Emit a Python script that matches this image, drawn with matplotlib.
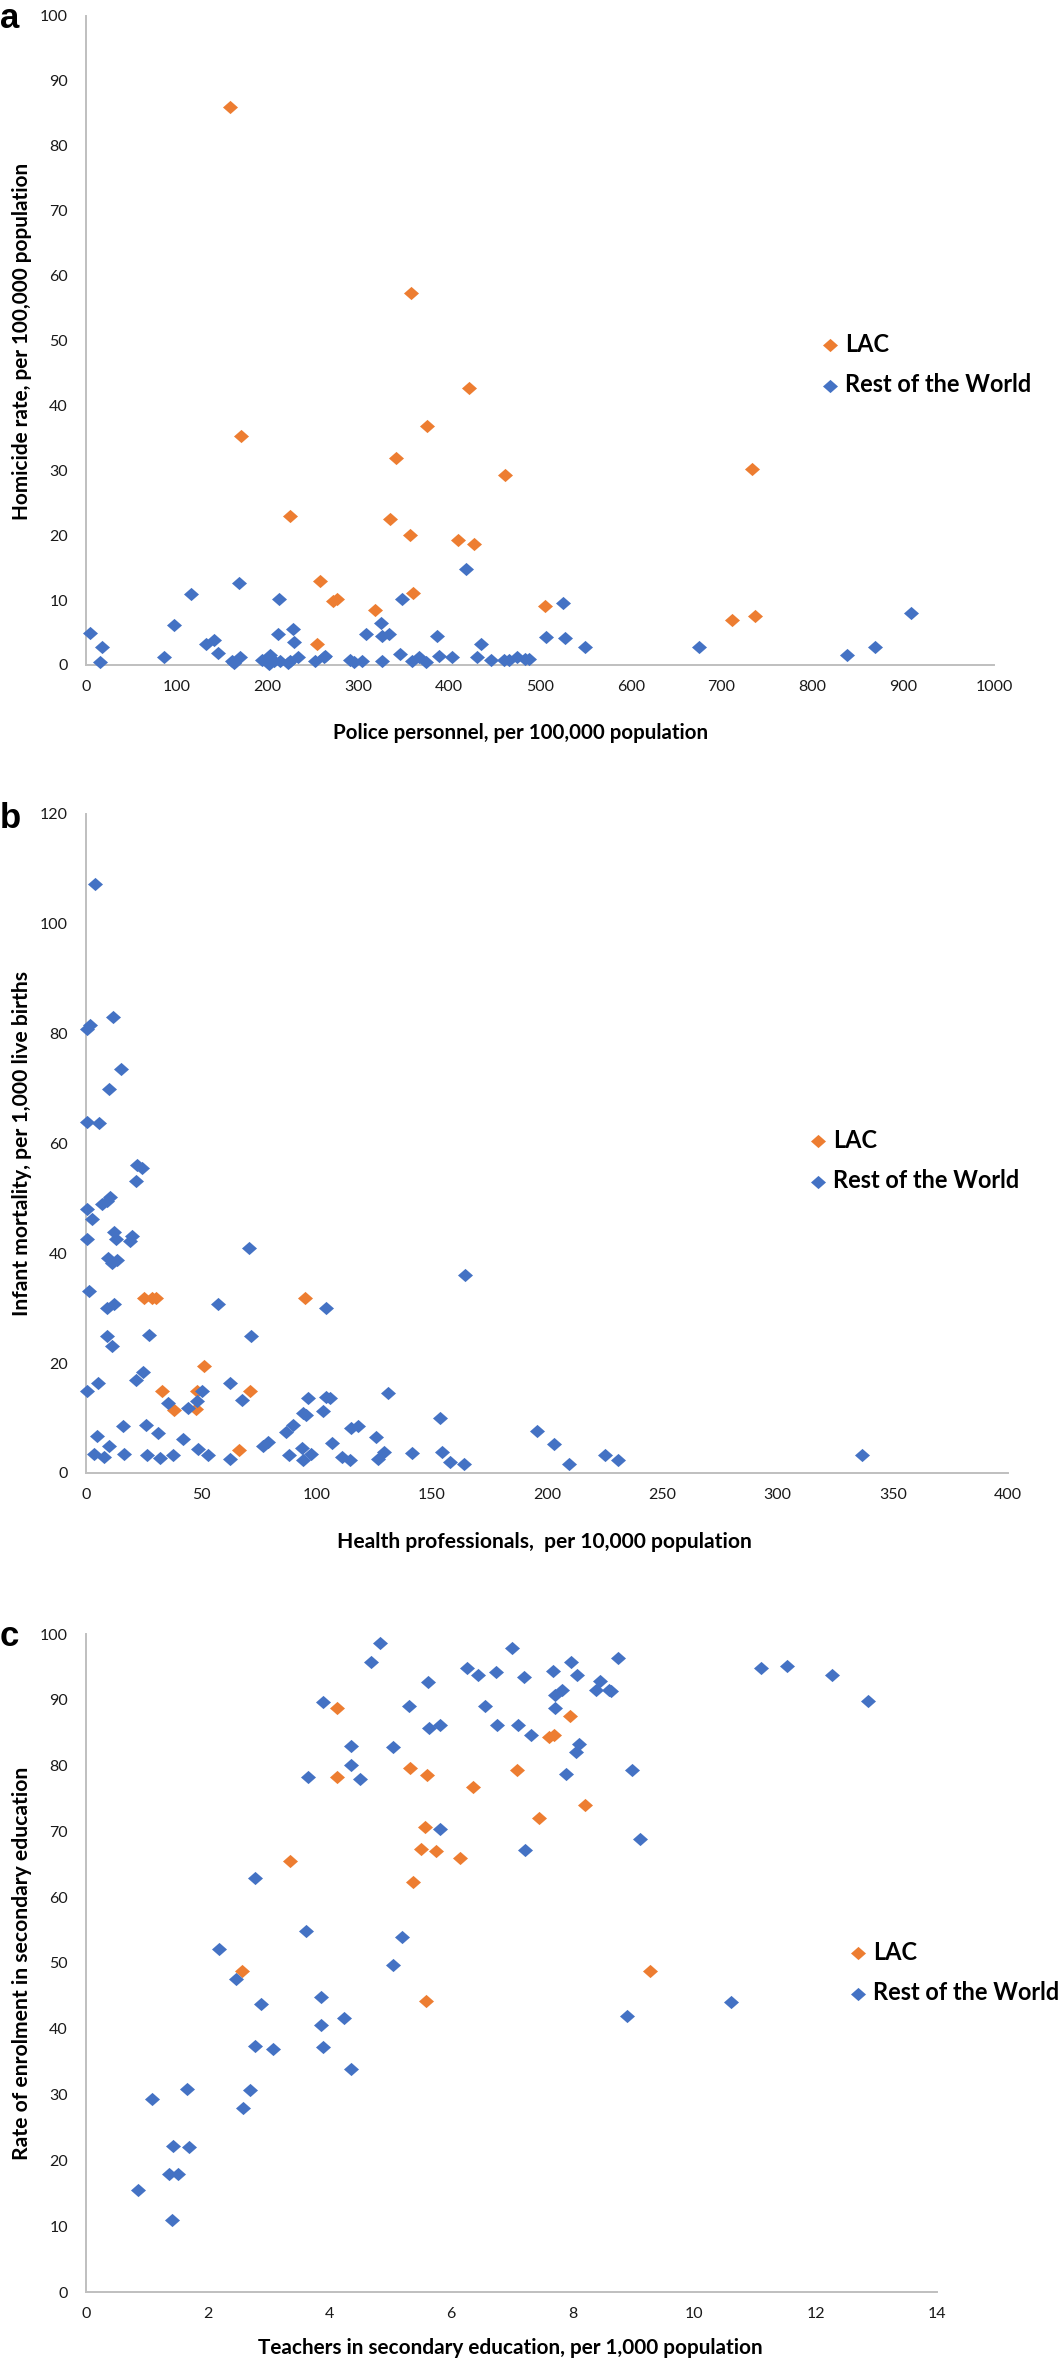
import matplotlib
matplotlib.use("Agg")
import matplotlib.pyplot as plt
from matplotlib.path import Path

# ---- panel a: police personnel vs homicide rate ----
police_lac = [159, 171, 225, 258, 254, 272, 276, 318, 335, 341, 358, 357, 360,
              375, 410, 422, 427, 461, 506, 733, 712, 737]
homicide_lac = [86.0, 35.3, 22.9, 12.9, 3.2, 9.8, 10.1, 8.4, 22.5, 31.8, 57.3, 20.0, 11.1,
                36.8, 19.2, 42.7, 18.6, 29.3, 9.1, 30.2, 7.0, 7.6]
police_row = [4.5, 15.4, 17.3, 86.4, 97, 116, 132, 141, 145, 160.7, 163.2, 169.8, 169,
              193.8, 199.3, 201, 206.6, 203, 214, 223, 224.6, 234, 213, 211, 228, 229,
              252.6, 261.8, 263.6, 291, 294.9, 304, 308, 324.6, 326.5, 334, 326, 345.6,
              348, 359, 366.5, 374, 387, 388.6, 403.3, 419, 431, 435.3, 445.6, 460,
              465.8, 475, 484, 488, 506.8, 525.5, 527.4, 550, 675, 838, 869, 909]
homicide_row = [4.9, 0.5, 2.8, 1.3, 6.2, 10.9, 3.3, 3.8, 1.8, 0.6, 0.3, 1.2, 12.7,
                0.7, 0.9, 0.2, 0.6, 1.5, 0.6, 0.3, 0.6, 1.2, 10.2, 4.7, 5.5, 3.6,
                0.6, 1.2, 1.4, 0.8, 0.4, 0.6, 4.8, 6.5, 4.5, 4.8, 0.6, 1.7,
                10.2, 0.6, 1.2, 0.4, 4.5, 1.4, 1.3, 14.8, 1.2, 3.3, 0.8, 0.7,
                0.8, 1.2, 0.9, 0.9, 4.3, 9.5, 4.1, 2.8, 2.7, 1.6, 2.7, 8.0]

# ---- panel b: health professionals vs infant mortality ----
health_lac = [25.1, 28.5, 30.2, 95, 33.1, 38.2, 47.7, 48, 51.2, 71.1, 66.3]
infant_lac = [31.8, 31.8, 31.8, 31.8, 15.0, 11.5, 11.7, 15.0, 19.4, 15.0, 4.1]
health_row = [3.9, 0.3, 1.7, 11.8, 15.2, 10, 0.6, 5.6, 22, 24.4, 21.5, 7.1, 9.2, 10.4,
              0.6, 2.7, 0.6, 12.3, 13, 19.8, 19, 9.7, 11.4, 13.6, 70.8, 1.4, 9, 12.3,
              57.4, 104.3, 9, 11.1, 27.3, 71.8, 0.6, 5.3, 21.5, 24.9, 35.4, 44.4, 48.3,
              50.4, 62.4, 67.8, 16.2, 25.9, 31.4, 42.2, 4.6, 3.6, 7.8, 10.1, 16.6, 26.6,
              32.1, 37.9, 48.7, 53, 62.4, 76.9, 79, 86.6, 89.9, 88, 94.2, 95.4, 96.4,
              93.9, 94.2, 97.8, 102.9, 104.3, 106, 106.8, 111, 114.5, 115, 118,
              164.4, 131, 125.6, 126.6, 129.4, 141.4, 153.6, 154.4, 158, 164, 195.6,
              203.2, 209.6, 225.2, 230.8, 336.6]
infant_row = [107.1, 80.8, 81.5, 83.0, 73.5, 69.9, 63.9, 63.7, 56.0, 55.5, 53.1, 49.0, 49.5, 50.3,
              48.0, 46.3, 42.6, 43.9, 42.5, 43.1, 42.3, 39.2, 38.3, 38.8, 41.0, 33.1, 30.0, 30.7,
              30.7, 30.0, 25.0, 23.2, 25.2, 25.0, 15.0, 16.3, 17.0, 18.3, 12.7, 11.9, 13.1,
              14.9, 16.3, 13.3, 8.6, 8.7, 7.2, 6.2, 6.7, 3.5, 3.0, 5.0, 3.5, 3.2,
              2.7, 3.2, 4.4, 3.2, 2.5, 5.0, 5.7, 7.5, 8.7, 3.2, 10.9, 10.6, 13.7,
              4.6, 2.3, 3.5, 11.3, 13.9, 13.6, 5.5, 3.0, 2.3, 8.2, 8.5,
              36.1, 14.6, 6.5, 2.6, 3.9, 3.7, 10.1, 3.9, 2.0, 1.6, 7.7,
              5.3, 1.7, 3.2, 2.3, 3.3]

# ---- panel c: secondary teachers vs enrolment ----
teachers_lac = [2.56, 3.35, 4.12, 4.12, 5.33, 5.61, 5.58, 5.5, 5.76, 5.37, 6.15, 6.37,
                5.59, 7.09, 7.44, 7.95, 7.62, 7.69, 8.2, 9.27]
enrol_lac = [48.8, 65.5, 88.7, 78.3, 79.7, 78.6, 70.6, 67.3, 67.0, 62.3, 65.9, 76.8,
             44.3, 79.3, 72.0, 87.5, 84.3, 84.7, 74.0, 48.8]
teachers_row = [0.85, 1.09, 1.43, 1.36, 1.52, 1.41, 1.66, 1.70, 2.18, 2.46, 2.78, 2.88,
                2.78, 2.69, 2.58, 3.08, 3.62, 3.65, 3.90, 3.86, 3.86, 3.90, 4.24, 4.36,
                4.35, 4.36, 4.51, 4.69, 4.84, 5.05, 5.05, 5.20, 5.31, 5.62, 5.64, 5.82,
                5.82, 6.26, 6.45, 6.56, 6.74, 6.75, 7.0, 7.2, 7.1, 7.31, 7.21, 7.68,
                7.97, 8.07, 8.75, 7.71, 7.83, 7.71, 8.39, 8.45, 8.6, 8.64, 8.11, 8.06,
                7.89, 8.98, 9.11, 8.9, 10.6, 11.1, 11.53, 12.27, 12.86]
enrol_row = [15.5, 29.4, 22.2, 17.9, 17.9, 11.0, 30.9, 22.0, 52.2, 47.6, 62.9, 43.7,
             37.4, 30.7, 28.0, 36.9, 54.9, 78.2, 89.6, 44.9, 40.6, 37.2, 41.7, 33.9,
             83.0, 80.1, 77.9, 95.7, 98.7, 82.8, 49.7, 53.9, 89.0, 92.7, 85.7, 86.1,
             70.4, 94.9, 93.7, 89.1, 94.2, 86.1, 97.8, 93.4, 86.2, 84.6, 67.1, 94.4,
             95.7, 93.7, 96.4, 90.7, 91.5, 88.7, 91.5, 92.8, 91.5, 91.3, 83.3, 82.0,
             78.7, 79.3, 68.8, 42.0, 44.0, 94.9, 95.1, 93.8, 89.8]

W, H, DPI = 1061, 2362, 100
BLUE = "#4472C4"
ORANGE = "#ED7D31"
GREY = "#BFBFBF"
INK = "#1a1a1a"

plt.rcParams["font.family"] = ["Lato", "DejaVu Sans"]

# Excel-like diamond, a bit wider than tall
diamond = Path([(-1, 0), (0, 0.88), (1, 0), (0, -0.88), (-1, 0)],
               [Path.MOVETO, Path.LINETO, Path.LINETO, Path.LINETO, Path.CLOSEPOLY])

fig = plt.figure(figsize=(W / DPI, H / DPI), dpi=DPI)
renderer = fig.canvas.get_renderer()


def fx(x):
    return x / W


def fy(y):
    return 1 - y / H


def fit(t, target, vertical=False):
    # scale font so the text spans the measured pixel length
    bb = t.get_window_extent(renderer)
    size = bb.height if vertical else bb.width
    t.set_fontsize(t.get_fontsize() * target / size)
    return t


def panel(box, x_lac, y_lac, x_row, y_row, xlim, xticks, ylim, yticks,
          xlabel, xlab, ylabel, ylab, letter, letter_y, leg):
    left, top, right, bottom = box
    ax = fig.add_axes([fx(left), fy(bottom), (right - left) / W, (bottom - top) / H])
    ax.scatter(x_lac, y_lac, s=117, marker=diamond, color=ORANGE, linewidths=0,
               label="LAC", zorder=3, clip_on=False)
    ax.scatter(x_row, y_row, s=117, marker=diamond, color=BLUE, linewidths=0,
               label="Rest of the World", zorder=3, clip_on=False)
    ax.set_xlim(*xlim)
    ax.set_ylim(*ylim)
    ax.set_xticks(xticks)
    ax.set_yticks(yticks)
    for side in ("top", "right"):
        ax.spines[side].set_visible(False)
    for side in ("left", "bottom"):
        ax.spines[side].set_color(GREY)
        ax.spines[side].set_linewidth(1.4)
    ax.tick_params(length=0, labelsize=11.5, colors=INK)
    ax.tick_params(axis="y", pad=13)
    ax.tick_params(axis="x", pad=11)

    # axis titles: (start x, centre y, width) and (centre x, top, bottom)
    t = fig.text(fx(xlab[0]), fy(xlab[1]), xlabel, ha="left", va="center",
                 fontsize=14, fontweight="bold", color="black")
    fit(t, xlab[2])
    t = fig.text(fx(ylab[0]), fy((ylab[1] + ylab[2]) / 2), ylabel, rotation=90,
                 ha="center", va="center", fontsize=13.5, fontweight="bold", color="black")
    fit(t, ylab[2] - ylab[1], vertical=True)

    fig.text(0, fy(letter_y), letter, ha="left", va="baseline", fontsize=25,
             fontweight="bold", family="Liberation Sans")

    # legend: marker x, LAC row y, Rest of the World row y
    mx, y1, y2 = leg
    fs = 15.5
    probe = fig.text(0, 0, "Rest of the World", fontsize=fs, fontweight="bold")
    fit(probe, 187)
    fs = probe.get_fontsize()
    probe.remove()
    fs_px = fs * DPI / 72
    hl = 0.7
    spacing = 0.9
    for _ in range(3):
        lg = ax.legend(loc="center left", bbox_to_anchor=(fx(mx - hl / 2 * fs_px), fy((y1 + y2) / 2)),
                       bbox_transform=fig.transFigure, frameon=False, borderpad=0,
                       borderaxespad=0, handlelength=hl, handletextpad=15 / fs_px - hl / 2,
                       labelspacing=spacing, prop={"weight": "bold", "size": fs})
        for txt in lg.get_texts():
            txt.set_color("black")
        fig.canvas.draw()
        b0, b1 = [tx.get_window_extent(renderer) for tx in lg.get_texts()]
        gap = (b0.y0 + b0.y1) / 2 - (b1.y0 + b1.y1) / 2
        spacing += ((y2 - y1) - gap) / fs_px
    return ax


panel((86, 15.6, 994, 665), police_lac, homicide_lac, police_row, homicide_row,
      (0, 1000), range(0, 1001, 100), (0, 100), range(0, 101, 10),
      "Police personnel, per 100,000 population", (333, 733, 379),
      "Homicide rate, per 100,000 population", (21.7, 163, 520),
      "a", 28, (830, 344, 385))

panel((86, 813.6, 1008, 1473), health_lac, infant_lac, health_row, infant_row,
      (0, 400), range(0, 401, 50), (0, 120), range(0, 121, 20),
      "Health professionals,  per 10,000 population", (337, 1542, 418),
      "Infant mortality, per 1,000 live births", (21.7, 971, 1317),
      "b", 828, (818, 1140, 1181))

panel((86, 1634, 937.5, 2292), teachers_lac, enrol_lac, teachers_row, enrol_row,
      (0, 14), range(0, 15, 2), (0, 100), range(0, 101, 10),
      "Teachers in secondary education, per 1,000 population", (258, 2347.5, 508),
      "Rate of enrolment in secondary education", (21.7, 1767, 2160),
      "c", 1646, (858, 1952, 1993))

fig.savefig("out.png", dpi=DPI)
